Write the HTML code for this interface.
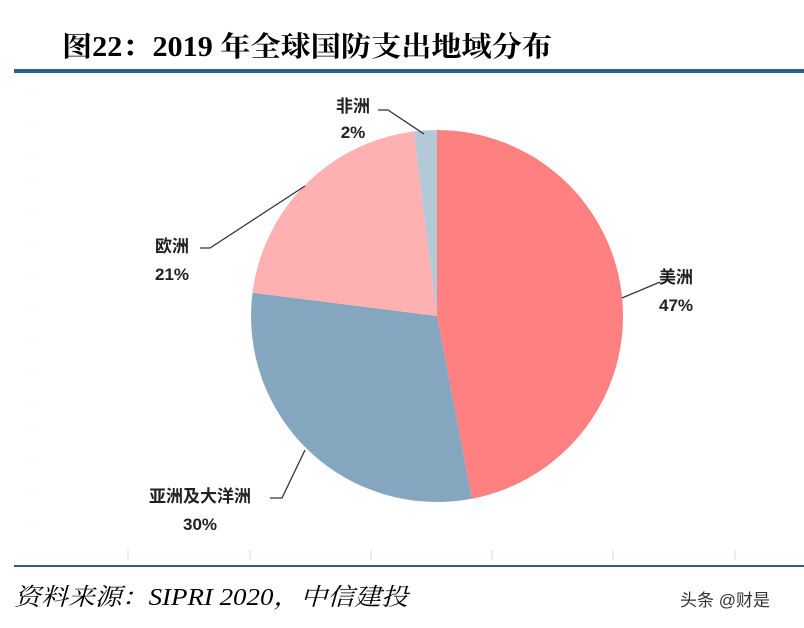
<!DOCTYPE html>
<html><head><meta charset="utf-8"><style>
html,body{margin:0;padding:0;background:#fff;width:804px;height:628px;overflow:hidden}
svg{display:block}
</style></head><body>
<svg width="804" height="628" viewBox="0 0 804 628" xmlns="http://www.w3.org/2000/svg">
<text x="62" y="56" textLength="490" lengthAdjust="spacingAndGlyphs" font-family="'Liberation Serif','Noto Serif CJK SC',serif" font-size="28" font-weight="bold" fill="#000">图22：2019 年全球国防支出地域分布</text>
<rect x="14" y="69" width="790" height="4" fill="#2F5D8E"/>
<g stroke="#d8d8d8" stroke-width="1">
<line x1="128" y1="550" x2="128" y2="560"/><line x1="250" y1="550" x2="250" y2="560"/>
<line x1="371" y1="550" x2="371" y2="560"/><line x1="492" y1="550" x2="492" y2="560"/>
<line x1="613" y1="550" x2="613" y2="560"/><line x1="735" y1="550" x2="735" y2="560"/>
<line x1="32" y1="90" x2="32" y2="555" stroke-dasharray="1,30"/>
</g>
<path d="M437,316 L437,130 A186,186 0 0 1 471.9,498.7 Z" fill="#FF8080"/>
<path d="M437,316 L471.9,498.7 A186,186 0 0 1 252.5,292.7 Z" fill="#84A6BF"/>
<path d="M437,316 L252.5,292.7 A186,186 0 0 1 413.7,131.5 Z" fill="#FFB0B0"/>
<path d="M437,316 L413.7,131.5 A186,186 0 0 1 437,130 Z" fill="#B3C9D8"/>
<g stroke="#333" stroke-width="1.3" fill="none">
<polyline points="378,110 388,110 424,134"/>
<polyline points="200,248 210,248 305,186"/>
<polyline points="270,498 282,498 305,450"/>
<polyline points="660,282 622,298"/>
</g>
<g font-family="'Liberation Sans','Noto Sans CJK SC',sans-serif" font-size="17" font-weight="bold" fill="#222" text-anchor="middle">
<text x="353" y="112">非洲</text><text x="353" y="138">2%</text>
<text x="172" y="252">欧洲</text><text x="172" y="280">21%</text>
<text x="676" y="283">美洲</text><text x="676" y="311">47%</text>
<text x="200" y="502">亚洲及大洋洲</text><text x="200" y="530">30%</text>
</g>
<rect x="14" y="565" width="790" height="2" fill="#2F5D8E"/>
<text x="14" y="605" textLength="394" lengthAdjust="spacingAndGlyphs" font-family="'Liberation Serif','Noto Serif CJK SC',serif" font-size="24" font-style="italic" fill="#000">资料来源：SIPRI 2020，中信建投</text>
<text x="680" y="606" font-family="'Liberation Sans','Noto Sans CJK SC',sans-serif" font-size="17" fill="#333">头条 @财是</text>
</svg>
</body></html>
